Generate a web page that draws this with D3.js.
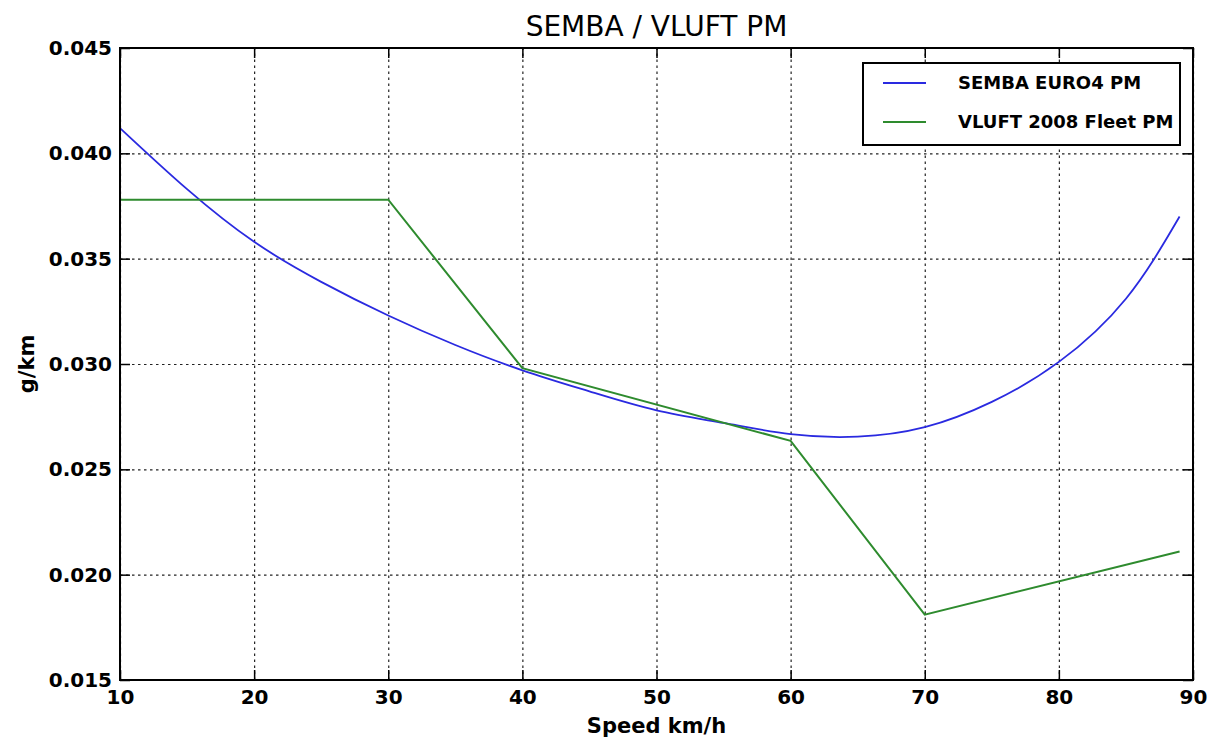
<!DOCTYPE html>
<html>
<head>
<meta charset="utf-8">
<title>SEMBA / VLUFT PM</title>
<style>
body { margin: 0; background: #fff; }
text { font-family: "DejaVu Sans", sans-serif; fill: #000; }
.tick text { font-size: 20px; font-weight: bold; }
.grid line { stroke: #222; stroke-width: 1.2; stroke-dasharray: 2.5,3.5; }
.grid path { stroke-width: 0; }
</style>
</head>
<body>
<script src="https://d3js.org/d3.v7.min.js"></script>
<script>

// data
const sembaSpeed = [10, 15, 20, 25, 30, 35, 40, 45, 50, 55, 60, 65, 70, 75, 80, 85, 89];
const sembaPM = [0.0412, 0.0383, 0.0358, 0.0339, 0.0323, 0.0309, 0.0297, 0.0287, 0.0278, 0.0272, 0.02667, 0.02655, 0.0270, 0.0282, 0.0301, 0.0331, 0.0370];
const vluftSpeed = [10, 30, 40, 60, 70, 89];
const vluftPM = [0.0378, 0.0378, 0.0298, 0.02635, 0.0181, 0.0211];
const xTicks = [10, 20, 30, 40, 50, 60, 70, 80, 90];
const yTicks = [0.015, 0.020, 0.025, 0.030, 0.035, 0.040, 0.045];
const seriesNames = ["SEMBA EURO4 PM", "VLUFT 2008 Fleet PM"];
const seriesColors = ["#2a2ae0", "#2e8b2e"];

const W = 1213, H = 742;
const margin = {top: 48, right: 20, bottom: 62, left: 120};
const width = W - margin.left - margin.right;
const height = H - margin.top - margin.bottom;

const x = d3.scaleLinear().domain([10, 90]).range([0, width]);
const y = d3.scaleLinear().domain([0.015, 0.045]).range([height, 0]);

const svg = d3.select("body").append("svg")
    .attr("width", W)
    .attr("height", H)
  .append("g")
    .attr("transform", "translate(" + margin.left + "," + margin.top + ")");

// grid
svg.append("g").attr("class", "grid")
    .call(d3.axisLeft(y).tickValues(yTicks).tickSize(-width).tickFormat(""));
svg.append("g").attr("class", "grid")
    .attr("transform", "translate(0," + height + ")")
    .call(d3.axisBottom(x).tickValues(xTicks).tickSize(-height).tickFormat(""));

// lines
const semba = sembaSpeed.map((s, i) => [s, sembaPM[i]]);
const vluft = vluftSpeed.map((s, i) => [s, vluftPM[i]]);

svg.append("path")
    .datum(semba)
    .attr("fill", "none")
    .attr("stroke", seriesColors[0])
    .attr("stroke-width", 1.8)
    .attr("d", d3.line().x(d => x(d[0])).y(d => y(d[1])).curve(d3.curveNatural));

svg.append("path")
    .datum(vluft)
    .attr("fill", "none")
    .attr("stroke", seriesColors[1])
    .attr("stroke-width", 2)
    .attr("d", d3.line().x(d => x(d[0])).y(d => y(d[1])));

// axes with inward ticks
const xb = svg.append("g")
    .attr("transform", "translate(0," + height + ")")
    .call(d3.axisBottom(x).tickValues(xTicks).tickSizeInner(-10).tickSizeOuter(0).tickPadding(18).tickFormat(d3.format("d")));
const yl = svg.append("g")
    .call(d3.axisLeft(y).tickValues(yTicks).tickSizeInner(-10).tickSizeOuter(0).tickPadding(18).tickFormat(d3.format(".3f")));
svg.append("g")
    .call(d3.axisTop(x).tickValues(xTicks).tickSizeInner(-10).tickSizeOuter(0).tickFormat(""));
svg.append("g")
    .attr("transform", "translate(" + width + ",0)")
    .call(d3.axisRight(y).tickValues(yTicks).tickSizeInner(-10).tickSizeOuter(0).tickFormat(""));

svg.selectAll(".domain").remove();
svg.selectAll(".tick line").attr("stroke", "#000").attr("stroke-width", 1.5);
svg.selectAll(".grid .tick line").attr("stroke", "#222").attr("stroke-width", 1.2);
yl.selectAll(".tick text").attr("x", -8);
xb.selectAll(".tick text").attr("y", 10);

// frame
svg.append("rect")
    .attr("width", width)
    .attr("height", height)
    .attr("fill", "none")
    .attr("stroke", "#000")
    .attr("stroke-width", 2);

// title and labels
svg.append("text")
    .attr("x", width / 2)
    .attr("y", -12)
    .attr("text-anchor", "middle")
    .style("font-size", "28px")
    .text("SEMBA / VLUFT PM");

svg.append("text")
    .attr("x", width / 2)
    .attr("y", height + 53)
    .attr("text-anchor", "middle")
    .style("font-size", "21px")
    .style("font-weight", "bold")
    .text("Speed km/h");

svg.append("text")
    .attr("transform", "rotate(-90)")
    .attr("x", -height / 2)
    .attr("y", -86)
    .attr("text-anchor", "middle")
    .style("font-size", "21px")
    .style("font-weight", "bold")
    .text("g/km");

// legend
const legend = svg.append("g")
    .attr("transform", "translate(" + (863 - margin.left) + "," + (63 - margin.top) + ")");
legend.append("rect")
    .attr("width", 317)
    .attr("height", 82)
    .attr("fill", "#fff")
    .attr("stroke", "#000")
    .attr("stroke-width", 2);
seriesNames.forEach(function(name, i) {
  const ly = 20 + i * 39;
  legend.append("line")
      .attr("x1", 20).attr("x2", 63)
      .attr("y1", ly).attr("y2", ly)
      .attr("stroke", seriesColors[i])
      .attr("stroke-width", 2);
  legend.append("text")
      .attr("x", 95)
      .attr("y", ly + 6)
      .style("font-size", "18px")
      .style("font-weight", "bold")
      .text(name);
});

</script>
</body>
</html>
